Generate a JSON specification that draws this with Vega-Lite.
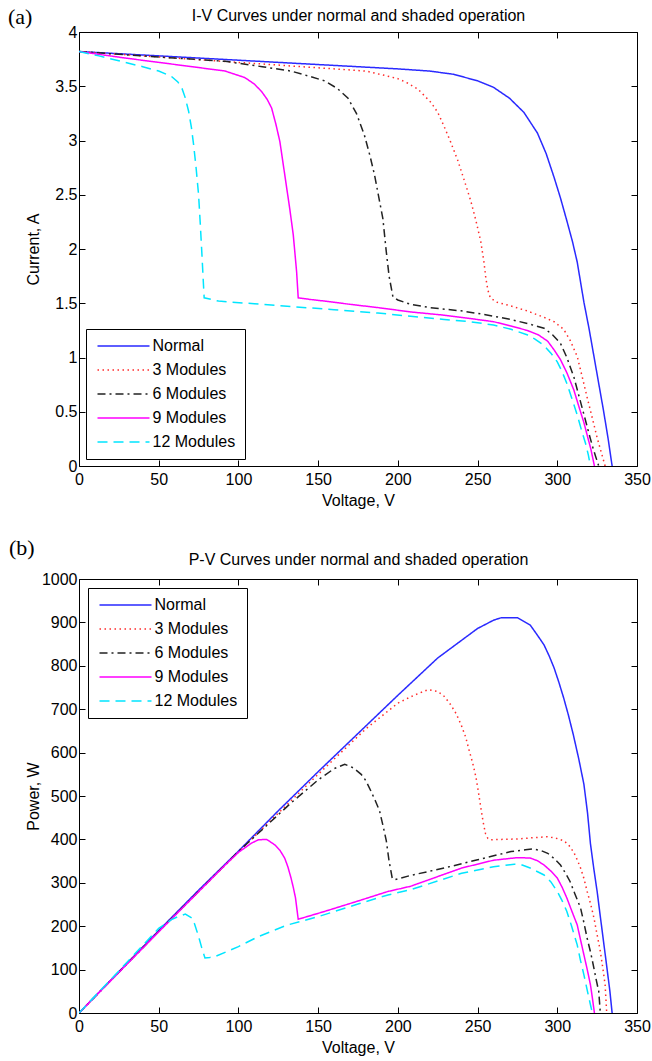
{
  "$schema": "https://vega.github.io/schema/vega-lite/v6.json",
  "background": "white",
  "padding": {"left": 7, "top": 5, "right": 0, "bottom": 0},
  "spacing": 27,
  "config": {
    "font": "Liberation Sans",
    "view": {"stroke": "#000", "strokeWidth": 1},
    "axis": {"domain": false, "grid": false, "tickSize": -6, "tickColor": "#000", "tickWidth": 1, "labelFont": "Liberation Sans", "labelFontSize": 16, "labelColor": "#000", "labelFlush": false, "labelOverlap": false, "titleFont": "Liberation Sans", "titleFontSize": 16, "titleFontWeight": "normal", "titleColor": "#000", "labelPadding": 8},
    "axisBottom": {"labelPadding": 11, "titlePadding": 5},
    "legend": {"title": null, "strokeColor": "#000", "fillColor": "#fff", "padding": 9, "symbolType": "M-4,0H4", "symbolSize": 169, "symbolOffset": 20.5, "symbolStrokeWidth": 1.5, "labelFont": "Liberation Sans", "labelFontSize": 16, "labelColor": "#000", "rowPadding": 8, "labelOffset": 21, "cornerRadius": 0}
  },
  "resolve": {"scale": {"x": "independent", "y": "independent", "color": "independent", "strokeDash": "independent"}, "legend": {"color": "independent", "strokeDash": "independent"}},
  "datasets": {
    "iv": [
      {"series":"Normal","V":0,"I":3.82},{"series":"Normal","V":25,"I":3.80},{"series":"Normal","V":50,"I":3.78},{"series":"Normal","V":75,"I":3.76},{"series":"Normal","V":100,"I":3.74},{"series":"Normal","V":125,"I":3.72},{"series":"Normal","V":150,"I":3.70},{"series":"Normal","V":175,"I":3.68},{"series":"Normal","V":200,"I":3.66},{"series":"Normal","V":220,"I":3.64},{"series":"Normal","V":235,"I":3.61},{"series":"Normal","V":250,"I":3.55},{"series":"Normal","V":260,"I":3.49},{"series":"Normal","V":270,"I":3.39},{"series":"Normal","V":279,"I":3.26},{"series":"Normal","V":287.5,"I":3.07},{"series":"Normal","V":293,"I":2.88},{"series":"Normal","V":298,"I":2.66},{"series":"Normal","V":302,"I":2.47},{"series":"Normal","V":306,"I":2.26},{"series":"Normal","V":309.5,"I":2.07},{"series":"Normal","V":312.5,"I":1.88},{"series":"Normal","V":316.7,"I":1.51},{"series":"Normal","V":320,"I":1.26},{"series":"Normal","V":323,"I":1.01},{"series":"Normal","V":326,"I":0.76},{"series":"Normal","V":329,"I":0.51},{"series":"Normal","V":331.8,"I":0.26},{"series":"Normal","V":334.4,"I":0},
      {"series":"3 Modules","V":0,"I":3.82},{"series":"3 Modules","V":50,"I":3.77},{"series":"3 Modules","V":100,"I":3.72},{"series":"3 Modules","V":150,"I":3.67},{"series":"3 Modules","V":180,"I":3.64},{"series":"3 Modules","V":191.7,"I":3.60},{"series":"3 Modules","V":200,"I":3.57},{"series":"3 Modules","V":206,"I":3.53},{"series":"3 Modules","V":212.5,"I":3.475},{"series":"3 Modules","V":220.8,"I":3.35},{"series":"3 Modules","V":225,"I":3.26},{"series":"3 Modules","V":229,"I":3.13},{"series":"3 Modules","V":233,"I":2.99},{"series":"3 Modules","V":237.5,"I":2.82},{"series":"3 Modules","V":241.5,"I":2.64},{"series":"3 Modules","V":245.8,"I":2.44},{"series":"3 Modules","V":249,"I":2.26},{"series":"3 Modules","V":252,"I":2.07},{"series":"3 Modules","V":254,"I":1.88},{"series":"3 Modules","V":255.2,"I":1.73},{"series":"3 Modules","V":256.5,"I":1.62},{"series":"3 Modules","V":258,"I":1.55},{"series":"3 Modules","V":262,"I":1.51},{"series":"3 Modules","V":271,"I":1.475},{"series":"3 Modules","V":281,"I":1.43},{"series":"3 Modules","V":291.7,"I":1.37},{"series":"3 Modules","V":298,"I":1.33},{"series":"3 Modules","V":304,"I":1.26},{"series":"3 Modules","V":308,"I":1.16},{"series":"3 Modules","V":312.5,"I":1.01},{"series":"3 Modules","V":315.5,"I":0.83},{"series":"3 Modules","V":318.75,"I":0.63},{"series":"3 Modules","V":322,"I":0.44},{"series":"3 Modules","V":325,"I":0.26},{"series":"3 Modules","V":327.5,"I":0.13},{"series":"3 Modules","V":330,"I":0},
      {"series":"6 Modules","V":0,"I":3.82},{"series":"6 Modules","V":29,"I":3.79},{"series":"6 Modules","V":60,"I":3.76},{"series":"6 Modules","V":91.7,"I":3.73},{"series":"6 Modules","V":115,"I":3.68},{"series":"6 Modules","V":133,"I":3.64},{"series":"6 Modules","V":145,"I":3.59},{"series":"6 Modules","V":154,"I":3.55},{"series":"6 Modules","V":162,"I":3.48},{"series":"6 Modules","V":168.75,"I":3.39},{"series":"6 Modules","V":174,"I":3.25},{"series":"6 Modules","V":179,"I":3.05},{"series":"6 Modules","V":182.5,"I":2.86},{"series":"6 Modules","V":185.4,"I":2.68},{"series":"6 Modules","V":188,"I":2.48},{"series":"6 Modules","V":190.6,"I":2.28},{"series":"6 Modules","V":192.7,"I":1.98},{"series":"6 Modules","V":194.5,"I":1.75},{"series":"6 Modules","V":196.9,"I":1.56},{"series":"6 Modules","V":200,"I":1.53},{"series":"6 Modules","V":208,"I":1.49},{"series":"6 Modules","V":220,"I":1.46},{"series":"6 Modules","V":239.6,"I":1.43},{"series":"6 Modules","V":255,"I":1.395},{"series":"6 Modules","V":271,"I":1.35},{"series":"6 Modules","V":282,"I":1.31},{"series":"6 Modules","V":291.7,"I":1.27},{"series":"6 Modules","V":297,"I":1.21},{"series":"6 Modules","V":302,"I":1.13},{"series":"6 Modules","V":306,"I":1.0},{"series":"6 Modules","V":310.4,"I":0.82},{"series":"6 Modules","V":313.5,"I":0.65},{"series":"6 Modules","V":316.7,"I":0.475},{"series":"6 Modules","V":319.5,"I":0.32},{"series":"6 Modules","V":321.9,"I":0.19},{"series":"6 Modules","V":324,"I":0.09},{"series":"6 Modules","V":326,"I":0},
      {"series":"9 Modules","V":0,"I":3.82},{"series":"9 Modules","V":29,"I":3.76},{"series":"9 Modules","V":50,"I":3.72},{"series":"9 Modules","V":71,"I":3.68},{"series":"9 Modules","V":91.7,"I":3.64},{"series":"9 Modules","V":104,"I":3.58},{"series":"9 Modules","V":110,"I":3.52},{"series":"9 Modules","V":114.6,"I":3.45},{"series":"9 Modules","V":118,"I":3.38},{"series":"9 Modules","V":120.8,"I":3.30},{"series":"9 Modules","V":123.5,"I":3.15},{"series":"9 Modules","V":126,"I":2.99},{"series":"9 Modules","V":128,"I":2.79},{"series":"9 Modules","V":130,"I":2.59},{"series":"9 Modules","V":132.3,"I":2.36},{"series":"9 Modules","V":134.4,"I":2.13},{"series":"9 Modules","V":136.5,"I":1.79},{"series":"9 Modules","V":137.5,"I":1.55},{"series":"9 Modules","V":145,"I":1.535},{"series":"9 Modules","V":154,"I":1.52},{"series":"9 Modules","V":170,"I":1.49},{"series":"9 Modules","V":187.5,"I":1.46},{"series":"9 Modules","V":208,"I":1.42},{"series":"9 Modules","V":229,"I":1.39},{"series":"9 Modules","V":245,"I":1.36},{"series":"9 Modules","V":260,"I":1.33},{"series":"9 Modules","V":271,"I":1.29},{"series":"9 Modules","V":281,"I":1.25},{"series":"9 Modules","V":288,"I":1.21},{"series":"9 Modules","V":294,"I":1.15},{"series":"9 Modules","V":298,"I":1.07},{"series":"9 Modules","V":302,"I":0.98},{"series":"9 Modules","V":306,"I":0.86},{"series":"9 Modules","V":310.4,"I":0.70},{"series":"9 Modules","V":313.5,"I":0.55},{"series":"9 Modules","V":316.7,"I":0.40},{"series":"9 Modules","V":319,"I":0.27},{"series":"9 Modules","V":321,"I":0.16},{"series":"9 Modules","V":323.3,"I":0},
      {"series":"12 Modules","V":0,"I":3.82},{"series":"12 Modules","V":12.5,"I":3.78},{"series":"12 Modules","V":29,"I":3.72},{"series":"12 Modules","V":40,"I":3.68},{"series":"12 Modules","V":50,"I":3.64},{"series":"12 Modules","V":58,"I":3.59},{"series":"12 Modules","V":62,"I":3.54},{"series":"12 Modules","V":64.6,"I":3.48},{"series":"12 Modules","V":66.5,"I":3.40},{"series":"12 Modules","V":68.75,"I":3.27},{"series":"12 Modules","V":70.5,"I":3.12},{"series":"12 Modules","V":71.9,"I":2.96},{"series":"12 Modules","V":73.5,"I":2.74},{"series":"12 Modules","V":75,"I":2.50},{"series":"12 Modules","V":76,"I":2.25},{"series":"12 Modules","V":77,"I":1.98},{"series":"12 Modules","V":77.8,"I":1.75},{"series":"12 Modules","V":78.5,"I":1.55},{"series":"12 Modules","V":87.5,"I":1.52},{"series":"12 Modules","V":110,"I":1.495},{"series":"12 Modules","V":133,"I":1.47},{"series":"12 Modules","V":160,"I":1.44},{"series":"12 Modules","V":187.5,"I":1.41},{"series":"12 Modules","V":208,"I":1.38},{"series":"12 Modules","V":229,"I":1.35},{"series":"12 Modules","V":245,"I":1.33},{"series":"12 Modules","V":260,"I":1.30},{"series":"12 Modules","V":271,"I":1.26},{"series":"12 Modules","V":281,"I":1.21},{"series":"12 Modules","V":286,"I":1.17},{"series":"12 Modules","V":291.7,"I":1.11},{"series":"12 Modules","V":296,"I":1.04},{"series":"12 Modules","V":300,"I":0.96},{"series":"12 Modules","V":303,"I":0.87},{"series":"12 Modules","V":306,"I":0.76},{"series":"12 Modules","V":309,"I":0.63},{"series":"12 Modules","V":312.5,"I":0.47},{"series":"12 Modules","V":315,"I":0.34},{"series":"12 Modules","V":317.7,"I":0.21},{"series":"12 Modules","V":319.5,"I":0.10},{"series":"12 Modules","V":320.8,"I":0}
    ],
    "pv": [
      {"series":"Normal","V":0,"P":0},{"series":"Normal","V":25,"P":95},{"series":"Normal","V":50,"P":190},{"series":"Normal","V":75,"P":283},{"series":"Normal","V":100,"P":373},{"series":"Normal","V":125,"P":466},{"series":"Normal","V":150,"P":556},{"series":"Normal","V":175,"P":644},{"series":"Normal","V":200,"P":732},{"series":"Normal","V":225,"P":818},{"series":"Normal","V":250,"P":886},{"series":"Normal","V":260,"P":905},{"series":"Normal","V":265,"P":911},{"series":"Normal","V":275,"P":911},{"series":"Normal","V":283,"P":894},{"series":"Normal","V":288,"P":868},{"series":"Normal","V":291.7,"P":848},{"series":"Normal","V":295,"P":822},{"series":"Normal","V":298,"P":795},{"series":"Normal","V":301,"P":762},{"series":"Normal","V":304,"P":726},{"series":"Normal","V":307,"P":686},{"series":"Normal","V":310,"P":642},{"series":"Normal","V":313.5,"P":585},{"series":"Normal","V":316.7,"P":527},{"series":"Normal","V":319,"P":460},{"series":"Normal","V":320.8,"P":390},{"series":"Normal","V":323,"P":330},{"series":"Normal","V":325,"P":280},{"series":"Normal","V":327,"P":222},{"series":"Normal","V":329,"P":165},{"series":"Normal","V":331,"P":108},{"series":"Normal","V":333,"P":50},{"series":"Normal","V":334.4,"P":0},
      {"series":"3 Modules","V":0,"P":0},{"series":"3 Modules","V":50,"P":188},{"series":"3 Modules","V":100,"P":371},{"series":"3 Modules","V":150,"P":550},{"series":"3 Modules","V":180,"P":655},{"series":"3 Modules","V":200,"P":714},{"series":"3 Modules","V":210,"P":732},{"series":"3 Modules","V":219,"P":745},{"series":"3 Modules","V":225,"P":741},{"series":"3 Modules","V":229,"P":730},{"series":"3 Modules","V":233,"P":711},{"series":"3 Modules","V":236.5,"P":690},{"series":"3 Modules","V":239.6,"P":665},{"series":"3 Modules","V":242.5,"P":636},{"series":"3 Modules","V":244.8,"P":604},{"series":"3 Modules","V":247,"P":575},{"series":"3 Modules","V":249,"P":543},{"series":"3 Modules","V":250.5,"P":510},{"series":"3 Modules","V":252,"P":474},{"series":"3 Modules","V":253.5,"P":440},{"series":"3 Modules","V":255,"P":413},{"series":"3 Modules","V":256.5,"P":402},{"series":"3 Modules","V":258,"P":399},{"series":"3 Modules","V":265,"P":400},{"series":"3 Modules","V":275,"P":401},{"series":"3 Modules","V":285,"P":404},{"series":"3 Modules","V":293.7,"P":406},{"series":"3 Modules","V":299,"P":403},{"series":"3 Modules","V":304,"P":397},{"series":"3 Modules","V":307,"P":388},{"series":"3 Modules","V":310.4,"P":370},{"series":"3 Modules","V":312.5,"P":353},{"series":"3 Modules","V":314.6,"P":334},{"series":"3 Modules","V":316.7,"P":310},{"series":"3 Modules","V":318.75,"P":280},{"series":"3 Modules","V":321,"P":250},{"series":"3 Modules","V":323,"P":219},{"series":"3 Modules","V":325,"P":180},{"series":"3 Modules","V":327,"P":142},{"series":"3 Modules","V":328.5,"P":105},{"series":"3 Modules","V":330,"P":65},{"series":"3 Modules","V":331,"P":0},
      {"series":"6 Modules","V":0,"P":0},{"series":"6 Modules","V":50,"P":188},{"series":"6 Modules","V":100,"P":372},{"series":"6 Modules","V":133,"P":484},{"series":"6 Modules","V":150,"P":537},{"series":"6 Modules","V":160,"P":563},{"series":"6 Modules","V":166.7,"P":573},{"series":"6 Modules","V":172,"P":565},{"series":"6 Modules","V":177,"P":550},{"series":"6 Modules","V":180,"P":535},{"series":"6 Modules","V":183,"P":512},{"series":"6 Modules","V":186,"P":488},{"series":"6 Modules","V":188.5,"P":466},{"series":"6 Modules","V":190.6,"P":433},{"series":"6 Modules","V":192.7,"P":398},{"series":"6 Modules","V":194.5,"P":350},{"series":"6 Modules","V":196.5,"P":310},{"series":"6 Modules","V":198,"P":307},{"series":"6 Modules","V":208,"P":317},{"series":"6 Modules","V":229,"P":334},{"series":"6 Modules","V":250,"P":353},{"series":"6 Modules","V":262,"P":364},{"series":"6 Modules","V":271,"P":372},{"series":"6 Modules","V":280,"P":376},{"series":"6 Modules","V":285,"P":378},{"series":"6 Modules","V":290,"P":374},{"series":"6 Modules","V":294,"P":368},{"series":"6 Modules","V":298,"P":356},{"series":"6 Modules","V":302,"P":341},{"series":"6 Modules","V":305,"P":323},{"series":"6 Modules","V":308,"P":303},{"series":"6 Modules","V":311,"P":275},{"series":"6 Modules","V":314.6,"P":242},{"series":"6 Modules","V":316.7,"P":208},{"series":"6 Modules","V":318.75,"P":172},{"series":"6 Modules","V":321,"P":138},{"series":"6 Modules","V":323,"P":103},{"series":"6 Modules","V":324.5,"P":75},{"series":"6 Modules","V":326,"P":50},{"series":"6 Modules","V":327,"P":0},
      {"series":"9 Modules","V":0,"P":0},{"series":"9 Modules","V":50,"P":187},{"series":"9 Modules","V":91.7,"P":341},{"series":"9 Modules","V":100,"P":370},{"series":"9 Modules","V":108,"P":391},{"series":"9 Modules","V":112.5,"P":399},{"series":"9 Modules","V":117.7,"P":400},{"series":"9 Modules","V":123,"P":387},{"series":"9 Modules","V":126,"P":375},{"series":"9 Modules","V":129,"P":357},{"series":"9 Modules","V":131,"P":337},{"series":"9 Modules","V":133,"P":311},{"series":"9 Modules","V":134.5,"P":288},{"series":"9 Modules","V":135.8,"P":265},{"series":"9 Modules","V":137.5,"P":216},{"series":"9 Modules","V":154,"P":234},{"series":"9 Modules","V":175,"P":258},{"series":"9 Modules","V":193.75,"P":280},{"series":"9 Modules","V":208,"P":292},{"series":"9 Modules","V":240,"P":334},{"series":"9 Modules","V":260,"P":352},{"series":"9 Modules","V":275,"P":358},{"series":"9 Modules","V":283,"P":357},{"series":"9 Modules","V":287.5,"P":351},{"series":"9 Modules","V":291.7,"P":341},{"series":"9 Modules","V":296,"P":327},{"series":"9 Modules","V":300,"P":311},{"series":"9 Modules","V":303,"P":290},{"series":"9 Modules","V":306,"P":265},{"series":"9 Modules","V":309,"P":236},{"series":"9 Modules","V":312.5,"P":203},{"series":"9 Modules","V":314.5,"P":170},{"series":"9 Modules","V":316.7,"P":134},{"series":"9 Modules","V":318.8,"P":100},{"series":"9 Modules","V":320.8,"P":65},{"series":"9 Modules","V":322,"P":35},{"series":"9 Modules","V":323.3,"P":0},
      {"series":"12 Modules","V":0,"P":0},{"series":"12 Modules","V":25,"P":97},{"series":"12 Modules","V":50,"P":195},{"series":"12 Modules","V":58,"P":215},{"series":"12 Modules","V":62,"P":222},{"series":"12 Modules","V":66.7,"P":228},{"series":"12 Modules","V":70.8,"P":219},{"series":"12 Modules","V":72.5,"P":205},{"series":"12 Modules","V":74,"P":188},{"series":"12 Modules","V":75.5,"P":170},{"series":"12 Modules","V":77,"P":150},{"series":"12 Modules","V":79,"P":127},{"series":"12 Modules","V":82,"P":128},{"series":"12 Modules","V":85.4,"P":130},{"series":"12 Modules","V":100,"P":153},{"series":"12 Modules","V":112.5,"P":176},{"series":"12 Modules","V":130,"P":202},{"series":"12 Modules","V":150,"P":222},{"series":"12 Modules","V":175,"P":251},{"series":"12 Modules","V":193.75,"P":272},{"series":"12 Modules","V":208,"P":284},{"series":"12 Modules","V":240,"P":322},{"series":"12 Modules","V":260,"P":337},{"series":"12 Modules","V":273,"P":343},{"series":"12 Modules","V":278,"P":341},{"series":"12 Modules","V":283,"P":334},{"series":"12 Modules","V":291.7,"P":318},{"series":"12 Modules","V":296,"P":302},{"series":"12 Modules","V":300,"P":280},{"series":"12 Modules","V":303,"P":259},{"series":"12 Modules","V":306,"P":234},{"series":"12 Modules","V":309,"P":200},{"series":"12 Modules","V":312.5,"P":157},{"series":"12 Modules","V":314.5,"P":122},{"series":"12 Modules","V":316.7,"P":88},{"series":"12 Modules","V":318.8,"P":52},{"series":"12 Modules","V":320.8,"P":19},{"series":"12 Modules","V":322,"P":0}
    ]
  },
  "vconcat": [
    {
      "width": 558, "height": 434,
      "title": {"text": "(a)", "anchor": "start", "frame": "group", "font": "Liberation Serif", "fontSize": 22, "fontWeight": "normal", "color": "#000", "dx": -71, "dy": 21, "offset": 0},
      "data": {"name": "iv"},
      "layer": [
        {
          "mark": {"type": "line", "strokeWidth": 1.5, "clip": true},
          "encoding": {
            "x": {"field": "V", "type": "quantitative", "scale": {"domain": [0, 350], "nice": false, "zero": false}, "axis": {"orient": "bottom", "values": [0, 50, 100, 150, 200, 250, 300, 350], "format": "~r", "title": "Voltage, V"}},
            "y": {"field": "I", "type": "quantitative", "scale": {"domain": [0, 4], "nice": false}, "axis": {"orient": "left", "values": [0, 0.5, 1, 1.5, 2, 2.5, 3, 3.5, 4], "format": "~r", "title": "Current, A", "titleX": -46, "titleBaseline": "middle"}},
            "color": {"field": "series", "type": "nominal", "scale": {"domain": ["Normal", "3 Modules", "6 Modules", "9 Modules", "12 Modules"], "range": ["#2a2aff", "#ff2a2a", "#222222", "#ff00ff", "#00e5ff"]}, "legend": {"orient": "bottom-left", "offset": 7}},
            "strokeDash": {"field": "series", "type": "nominal", "scale": {"domain": ["Normal", "3 Modules", "6 Modules", "9 Modules", "12 Modules"], "range": [[1, 0], [1.5, 3.5], [8, 4, 2, 4], [1, 0], [10, 6]]}, "legend": {"orient": "bottom-left", "offset": 7}}
          }
        },
        {
          "mark": {"type": "point", "opacity": 0},
          "encoding": {
            "x": {"field": "V", "type": "quantitative", "scale": {"domain": [0, 350], "nice": false, "zero": false}, "axis": {"orient": "top", "values": [0, 50, 100, 150, 200, 250, 300, 350], "labels": false, "title": "I-V Curves under normal and shaded operation", "titlePadding": 8}},
            "y": {"field": "I", "type": "quantitative", "scale": {"domain": [0, 4], "nice": false}, "axis": {"orient": "right", "values": [0, 0.5, 1, 1.5, 2, 2.5, 3, 3.5, 4], "labels": false, "title": null}}
          }
        }
      ]
    },
    {
      "width": 558, "height": 434,
      "title": {"text": "(b)", "anchor": "start", "frame": "group", "font": "Liberation Serif", "fontSize": 22, "fontWeight": "normal", "color": "#000", "dx": -70, "dy": 8, "offset": 0},
      "data": {"name": "pv"},
      "layer": [
        {
          "mark": {"type": "line", "strokeWidth": 1.5, "clip": true},
          "encoding": {
            "x": {"field": "V", "type": "quantitative", "scale": {"domain": [0, 350], "nice": false, "zero": false}, "axis": {"orient": "bottom", "values": [0, 50, 100, 150, 200, 250, 300, 350], "format": "~r", "title": "Voltage, V"}},
            "y": {"field": "P", "type": "quantitative", "scale": {"domain": [0, 1000], "nice": false}, "axis": {"orient": "left", "values": [0, 100, 200, 300, 400, 500, 600, 700, 800, 900, 1000], "format": "~r", "title": "Power, W", "titleX": -46, "titleBaseline": "middle"}},
            "color": {"field": "series", "type": "nominal", "scale": {"domain": ["Normal", "3 Modules", "6 Modules", "9 Modules", "12 Modules"], "range": ["#2a2aff", "#ff2a2a", "#222222", "#ff00ff", "#00e5ff"]}, "legend": {"orient": "top-left", "offset": 9}},
            "strokeDash": {"field": "series", "type": "nominal", "scale": {"domain": ["Normal", "3 Modules", "6 Modules", "9 Modules", "12 Modules"], "range": [[1, 0], [1.5, 3.5], [8, 4, 2, 4], [1, 0], [10, 6]]}, "legend": {"orient": "top-left", "offset": 9}}
          }
        },
        {
          "mark": {"type": "point", "opacity": 0},
          "encoding": {
            "x": {"field": "V", "type": "quantitative", "scale": {"domain": [0, 350], "nice": false, "zero": false}, "axis": {"orient": "top", "values": [0, 50, 100, 150, 200, 250, 300, 350], "labels": false, "title": "P-V Curves under normal and shaded operation", "titlePadding": 11}},
            "y": {"field": "P", "type": "quantitative", "scale": {"domain": [0, 1000], "nice": false}, "axis": {"orient": "right", "values": [0, 100, 200, 300, 400, 500, 600, 700, 800, 900, 1000], "labels": false, "title": null}}
          }
        }
      ]
    }
  ]
}
